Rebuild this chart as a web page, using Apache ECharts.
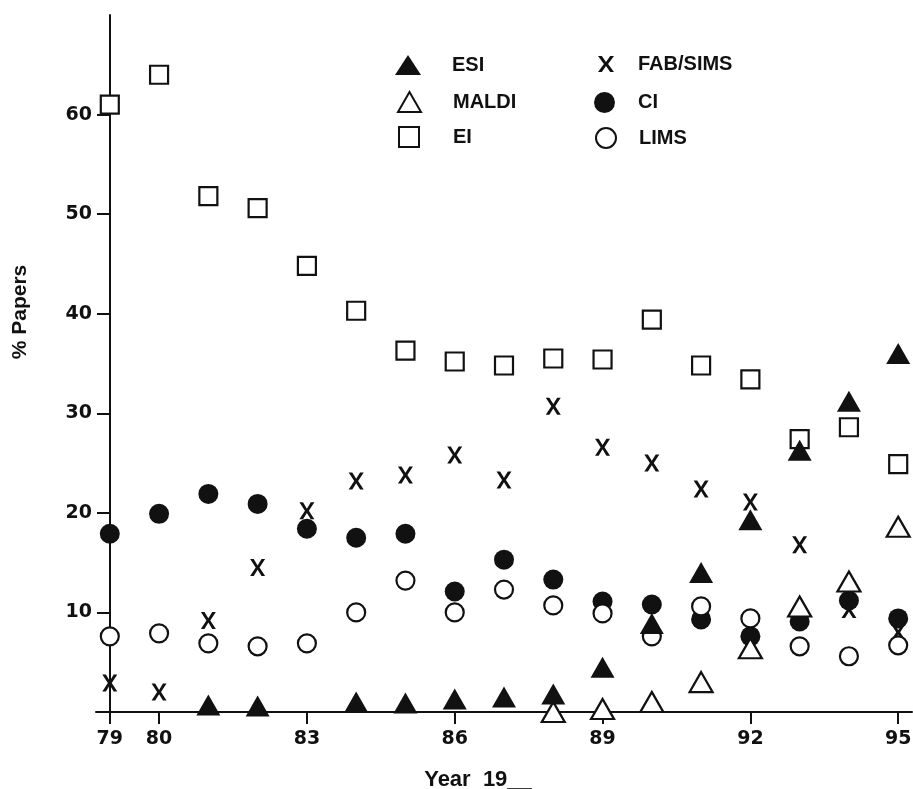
<!DOCTYPE html>
<html>
<head>
<meta charset="utf-8">
<script src="https://cdn.jsdelivr.net/npm/echarts@6/dist/echarts.min.js"></script>
<style>
  html, body { margin: 0; padding: 0; background: #fff; }
  #chart { width: 913px; height: 789px; }
</style>
</head>
<body>
<div id="chart"></div>
<script>
// Share of papers (%) per ionisation technique, 1979-1995
const years = [79, 80, 81, 82, 83, 84, 85, 86, 87, 88, 89, 90, 91, 92, 93, 94, 95];
const esi     = [null, null, 0.7, 0.6, null, 1.0, 0.9, 1.3, 1.5, 1.8, 4.5, 8.9, 14.0, 19.3, 26.3, 31.2, 36.0];
const maldi   = [null, null, null, null, null, null, null, null, null, 0.0, 0.3, 1.0, 3.0, 6.4, 10.6, 13.1, 18.6];
const ei      = [61.0, 64.0, 51.8, 50.6, 44.8, 40.3, 36.3, 35.2, 34.8, 35.5, 35.4, 39.4, 34.8, 33.4, 27.4, 28.6, 24.9];
const fabSims = [2.9, 2.0, 9.2, 14.5, 20.2, 23.2, 23.8, 25.8, 23.3, 30.7, 26.6, 25.0, 22.4, 21.1, 16.8, 10.3, 8.0];
const ci      = [17.9, 19.9, 21.9, 20.9, 18.4, 17.5, 17.9, 12.1, 15.3, 13.3, 11.1, 10.8, 9.3, 7.6, 9.1, 11.2, 9.4];
const lims    = [7.6, 7.9, 6.9, 6.6, 6.9, 10.0, 13.2, 10.0, 12.3, 10.7, 9.9, 7.6, 10.6, 9.4, 6.6, 5.6, 6.7];

const xTicks = [79, 80, 83, 86, 89, 92, 95];
const yTicks = [10, 20, 30, 40, 50, 60];

const pairs = vals => years.map((y, i) => [y, vals[i]]).filter(p => p[1] !== null);

const FONT = 'Liberation Sans, Arial, sans-serif';
const NUM_FONT = 'DejaVu Sans, sans-serif';
const INK = '#111';
const crossPath = 'path://M0,0 L24,0 L50,37 L76,0 L100,0 L63,50 L100,100 L76,100 L50,63 L24,100 L0,100 L37,50 Z';

const filled = { color: INK, borderWidth: 0, opacity: 1 };
const hollow = { color: '#fff', borderColor: INK, borderWidth: 2.2, opacity: 1 };

const series = [
  { name: 'EI', symbol: 'rect', symbolSize: 18, itemStyle: hollow, data: pairs(ei) },
  { name: 'FAB/SIMS', symbol: crossPath, symbolSize: [15, 17], itemStyle: filled, data: pairs(fabSims) },
  { name: 'CI', symbol: 'circle', symbolSize: 20, itemStyle: filled, data: pairs(ci) },
  { name: 'LIMS', symbol: 'circle', symbolSize: 18, itemStyle: hollow, data: pairs(lims) },
  { name: 'MALDI', symbol: 'triangle', symbolSize: [23, 20], itemStyle: hollow, data: pairs(maldi) },
  { name: 'ESI', symbol: 'triangle', symbolSize: [24, 21], itemStyle: filled, data: pairs(esi) }
].map(s => Object.assign({ type: 'scatter', emphasis: { disabled: true }, silent: true }, s));

// one legend entry per component so each key sits in its own spot
function legendEntry(name, left, top, w, h, textPad) {
  return {
    data: [name],
    orient: 'vertical',
    left: left,
    top: top,
    itemWidth: w,
    itemHeight: h,
    selectedMode: false,
    padding: 0,
    textStyle: {
      fontFamily: FONT, fontWeight: 'bold', fontSize: 20, color: INK,
      lineHeight: h, padding: [0, 0, 0, textPad]
    }
  };
}

const chart = echarts.init(document.getElementById('chart'), null, { renderer: 'canvas' });
chart.setOption({
  animation: false,
  backgroundColor: '#fff',
  grid: { left: 96, right: 1, top: 15, bottom: 77, containLabel: false, outerBoundsMode: 'none' },
  legend: [
    legendEntry('ESI',      395, 55, 26, 20, 26),
    legendEntry('MALDI',    397, 91, 23, 20, 27),
    legendEntry('EI',       398, 126, 20, 20, 29),
    legendEntry('FAB/SIMS', 598, 54, 16, 18, 19),
    legendEntry('CI',       594, 92, 21, 21, 18),
    legendEntry('LIMS',     595, 127, 20, 20, 18)
  ],
  xAxis: {
    type: 'value',
    min: 78.72,
    max: 95.28,
    splitLine: { show: false },
    axisLine: { onZero: false, lineStyle: { color: INK, width: 2 } },
    axisTick: { customValues: xTicks, length: 12, lineStyle: { color: INK, width: 2 } },
    axisLabel: { customValues: xTicks, margin: 18, fontFamily: NUM_FONT, fontWeight: 'bold', fontSize: 19, color: INK },
    name: 'Year  19__',
    nameLocation: 'middle',
    nameGap: 57,
    nameTextStyle: { fontFamily: FONT, fontWeight: 'bold', fontSize: 22, color: INK, padding: [0, 52, 0, 0] }
  },
  yAxis: {
    type: 'value',
    min: 0,
    max: 70,
    offset: -14,
    splitLine: { show: false },
    axisLine: { show: true, lineStyle: { color: INK, width: 2 } },
    axisTick: { customValues: yTicks, length: 13, lineStyle: { color: INK, width: 2 } },
    axisLabel: { customValues: yTicks, margin: 18, fontFamily: NUM_FONT, fontWeight: 'bold', fontSize: 19, color: INK }
  },
  graphic: [{
    type: 'text',
    x: 20,
    y: 312,
    rotation: Math.PI / 2,
    style: { text: '% Papers', fontFamily: FONT, fontWeight: 'bold', fontSize: 21, fill: INK, textAlign: 'center', textVerticalAlign: 'middle' }
  }],
  series: series
});
</script>
</body>
</html>
